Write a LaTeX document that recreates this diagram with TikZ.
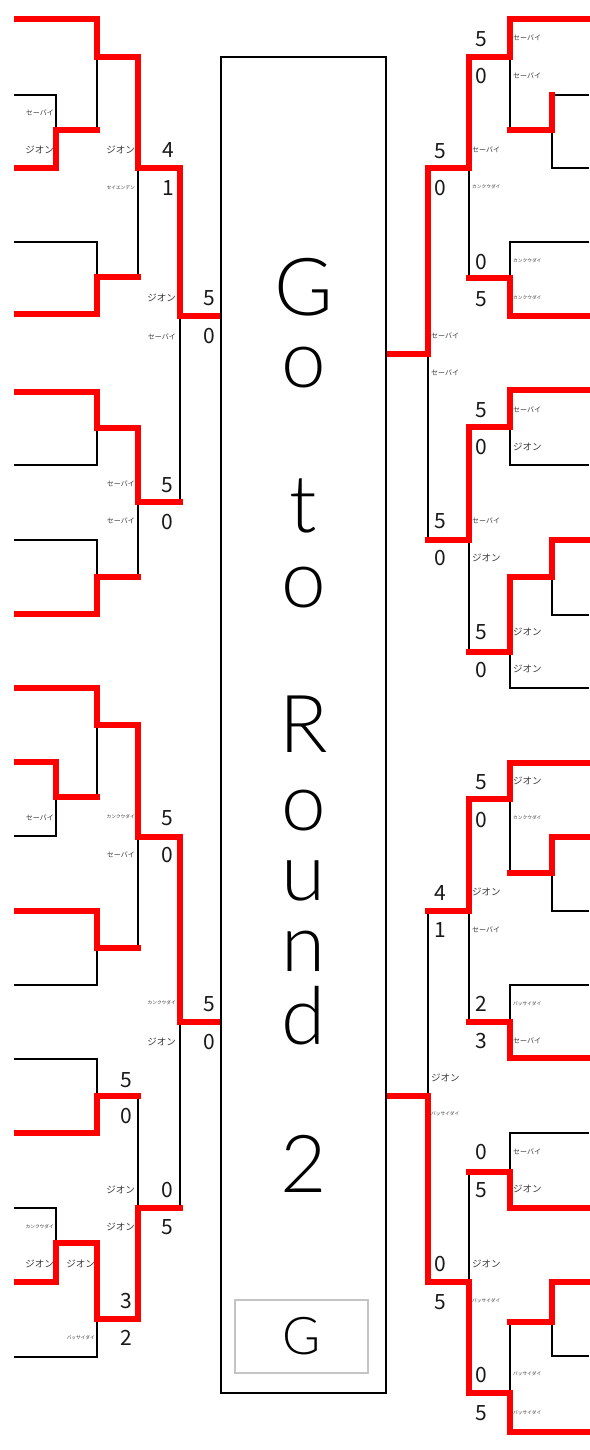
\documentclass[tikz,border=0pt]{standalone}
\usepackage{fontspec}
\setmainfont{Noto Sans CJK JP}
\newfontfamily\thinf{Lato}[UprightFont=* Light]
\definecolor{lbl}{HTML}{3A3A3A}
\definecolor{gbox}{HTML}{C4C4C4}
\tikzset{
  blk/.style={line width=2.7pt, black, line join=miter},
  wred/.style={line width=5.6pt, red, line join=miter, line cap=rect},
  sc/.style={font=\fontsize{21}{21}\selectfont, inner sep=0pt, text=black!90},
  nmA/.style={font=\fontsize{9.5}{9.5}\selectfont, inner sep=0pt, text=lbl},
  nmB/.style={font=\fontsize{7}{7}\selectfont, inner sep=0pt, text=lbl},
  nmC/.style={font=\fontsize{4.7}{4.7}\selectfont, inner sep=0pt, text=lbl},
  bigl/.style={font=\thinf\fontsize{80}{80}\selectfont, anchor=base, inner sep=0pt},
}
\begin{document}
\begin{tikzpicture}[x=1pt,y=-1pt]
\useasboundingbox (0,0) rectangle (589,1450);
\fill[white] (0,0) rectangle (589,1450);

% ---------- LEFT SIDE: black ----------
\draw[blk] (14,95)--(56,95)--(56,130);
\draw[blk] (97,57)--(97,130);
\draw[blk] (14,242)--(97,242)--(97,277);
\draw[blk] (138,168)--(138,277);
\draw[blk] (14,465)--(97,465)--(97,428);
\draw[blk] (14,540)--(97,540)--(97,577);
\draw[blk] (138,502)--(138,577);
\draw[blk] (180,316)--(180,502);
\draw[blk] (56,797)--(56,836)--(14,836);
\draw[blk] (97,725)--(97,797);
\draw[blk] (14,985)--(97,985)--(97,948);
\draw[blk] (138,837)--(138,948);
\draw[blk] (14,1059)--(97,1059)--(97,1096);
\draw[blk] (138,1096)--(138,1208);
\draw[blk] (14,1208)--(56,1208)--(56,1243);
\draw[blk] (97,1319)--(97,1357)--(14,1357);
\draw[blk] (180,1022)--(180,1208);

% ---------- RIGHT SIDE: black ----------
\draw[blk] (510,57)--(510,130);
\draw[blk] (552,95)--(589,95);
\draw[blk] (552,130)--(552,168)--(589,168);
\draw[blk] (469,168)--(469,278);
\draw[blk] (510,278)--(510,242)--(589,242);
\draw[blk] (428,354)--(428,540);
\draw[blk] (510,427)--(510,465)--(589,465);
\draw[blk] (469,540)--(469,652);
\draw[blk] (552,577)--(552,615)--(589,615);
\draw[blk] (510,652)--(510,688)--(589,688);
\draw[blk] (510,799)--(510,873);
\draw[blk] (552,873)--(552,911)--(589,911);
\draw[blk] (469,911)--(469,1022);
\draw[blk] (510,1022)--(510,985)--(589,985);
\draw[blk] (428,911)--(428,1096);
\draw[blk] (469,1282)--(469,1172);
\draw[blk] (510,1172)--(510,1133)--(589,1133);
\draw[blk] (510,1393)--(510,1322);
\draw[blk] (552,1322)--(552,1356)--(589,1356);

% ---------- LEFT SIDE: red ----------
\draw[wred] (16.8,19)--(97,19)--(97,57)--(138,57)--(138,168)--(180,168)--(180,316)--(221,316);
\draw[wred] (16.8,168)--(56,168)--(56,130)--(97,130);
\draw[wred] (16.8,314)--(97,314)--(97,277)--(138,277);
\draw[wred] (16.8,392)--(97,392)--(97,428)--(138,428)--(138,502)--(180,502);
\draw[wred] (16.8,614)--(97,614)--(97,577)--(138,577);
\draw[wred] (16.8,688)--(97,688)--(97,725)--(138,725)--(138,837)--(180,837)--(180,1022)--(221,1022);
\draw[wred] (16.8,762)--(56,762)--(56,797)--(97,797);
\draw[wred] (16.8,911)--(97,911)--(97,948)--(138,948);
\draw[wred] (16.8,1133)--(97,1133)--(97,1096)--(138,1096);
\draw[wred] (180,1208)--(138,1208)--(138,1319)--(97,1319)--(97,1243)--(56,1243)--(56,1282)--(16.8,1282);

% ---------- RIGHT SIDE: red ----------
\draw[wred] (592,19)--(510,19)--(510,57)--(469,57)--(469,168)--(428,168)--(428,354)--(386,354);
\draw[wred] (510,130)--(552,130)--(552,95);
\draw[wred] (469,278)--(510,278)--(510,316)--(592,316);
\draw[wred] (428,540)--(469,540)--(469,427)--(510,427)--(510,390)--(592,390);
\draw[wred] (469,652)--(510,652)--(510,577)--(552,577)--(552,540)--(592,540);
\draw[wred] (592,763)--(510,763)--(510,799)--(469,799)--(469,911)--(428,911);
\draw[wred] (510,873)--(552,873)--(552,837)--(592,837);
\draw[wred] (469,1022)--(510,1022)--(510,1058)--(592,1058);
\draw[wred] (386,1096)--(428,1096)--(428,1282)--(469,1282)--(469,1393)--(510,1393)--(510,1432)--(592,1432);
\draw[wred] (469,1172)--(510,1172)--(510,1208)--(592,1208);
\draw[wred] (510,1322)--(552,1322)--(552,1282)--(592,1282);

% ---------- CENTER BOX ----------
\draw[blk, fill=white] (221,57) rectangle (386,1393);
\node[bigl] (c1) at (303.5,315) {G};
\node[bigl] (c2) at (303.5,387) {o};
\node[bigl] (c3) at (303.5,532) {t};
\node[bigl] (c4) at (303.5,607) {o};
\node[bigl] (c5) at (303.5,752) {R};
\node[bigl] (c6) at (303.5,830) {o};
\node[bigl] (c7) at (303.5,900) {u};
\node[bigl] (c8) at (303.5,971) {n};
\node[bigl] (c9) at (303.5,1044) {d};
\node[bigl] (c10) at (303.5,1192) {2};
\draw[gbox, line width=1.5pt] (235,1300) rectangle (368,1373);
\node[font=\thinf\fontsize{52}{52}\selectfont, anchor=base, inner sep=0pt] (gg) at (301.5,1354) {G};

% ---------- LEFT LABELS ----------
\node[nmB, anchor=east] (L1) at (54,113) {セーバイ};
\node[nmA, anchor=east] (L2) at (54,150) {ジオン};
\node[nmA, anchor=east] (L3) at (135,150) {ジオン};
\node[nmC, anchor=east] (L4) at (135,188) {セイエンデン};
\node[nmA, anchor=east] (L5) at (176,298) {ジオン};
\node[nmB, anchor=east] (L6) at (176,337) {セーバイ};
\node[nmB, anchor=east] (L7) at (135,484) {セーバイ};
\node[nmB, anchor=east] (L8) at (135,521) {セーバイ};
\node[nmB, anchor=east] (L9) at (54,818) {セーバイ};
\node[nmC, anchor=east] (L10) at (135,817) {カンクウダイ};
\node[nmB, anchor=east] (L11) at (135,855) {セーバイ};
\node[nmC, anchor=east] (L12) at (176,1003) {カンクウダイ};
\node[nmA, anchor=east] (L13) at (176,1042) {ジオン};
\node[nmA, anchor=east] (L14) at (135,1190) {ジオン};
\node[nmA, anchor=east] (L15) at (135,1227) {ジオン};
\node[nmC, anchor=east] (L16) at (54,1227) {カンクウダイ};
\node[nmA, anchor=east] (L17) at (54,1264) {ジオン};
\node[nmA, anchor=east] (L18) at (95,1264) {ジオン};
\node[nmC, anchor=east] (L19) at (95,1338) {バッサイダイ};

% ---------- RIGHT LABELS ----------
\node[nmB, anchor=west] (R1) at (513,38) {セーバイ};
\node[nmB, anchor=west] (R2) at (513,76) {セーバイ};
\node[nmB, anchor=west] (R3) at (472,150) {セーバイ};
\node[nmC, anchor=west] (R4) at (472,187) {カンクウダイ};
\node[nmC, anchor=west] (R5) at (513,261) {カンクウダイ};
\node[nmC, anchor=west] (R6) at (513,298) {カンクウダイ};
\node[nmB, anchor=west] (R7) at (431,336) {セーバイ};
\node[nmB, anchor=west] (R8) at (431,373) {セーバイ};
\node[nmB, anchor=west] (R9) at (513,410) {セーバイ};
\node[nmA, anchor=west] (R10) at (513,447) {ジオン};
\node[nmB, anchor=west] (R11) at (472,521) {セーバイ};
\node[nmA, anchor=west] (R12) at (472,558) {ジオン};
\node[nmA, anchor=west] (R13) at (513,632) {ジオン};
\node[nmA, anchor=west] (R14) at (513,669) {ジオン};
\node[nmA, anchor=west] (R15) at (513,781) {ジオン};
\node[nmC, anchor=west] (R16) at (513,818) {カンクウダイ};
\node[nmA, anchor=west] (R17) at (472,892) {ジオン};
\node[nmB, anchor=west] (R18) at (472,930) {セーバイ};
\node[nmC, anchor=west] (R19) at (513,1004) {バッサイダイ};
\node[nmB, anchor=west] (R20) at (513,1041) {セーバイ};
\node[nmA, anchor=west] (R21) at (431,1078) {ジオン};
\node[nmC, anchor=west] (R22) at (431,1114) {バッサイダイ};
\node[nmB, anchor=west] (R23) at (513,1152) {セーバイ};
\node[nmA, anchor=west] (R24) at (513,1189) {ジオン};
\node[nmA, anchor=west] (R25) at (472,1264) {ジオン};
\node[nmC, anchor=west] (R26) at (472,1301) {バッサイダイ};
\node[nmC, anchor=west] (R27) at (513,1374) {バッサイダイ};
\node[nmC, anchor=west] (R28) at (513,1413) {バッサイダイ};

% ---------- LEFT SCORES ----------
\node[sc] (s1) at (168,150) {4};
\node[sc] (s2) at (168,188) {1};
\node[sc] (s3) at (209,298) {5};
\node[sc] (s4) at (209,336) {0};
\node[sc] (s5) at (167,485) {5};
\node[sc] (s6) at (167,522) {0};
\node[sc] (s7) at (167,818) {5};
\node[sc] (s8) at (167,855) {0};
\node[sc] (s9) at (209,1004) {5};
\node[sc] (s10) at (209,1042) {0};
\node[sc] (s11) at (126,1080) {5};
\node[sc] (s12) at (126,1116) {0};
\node[sc] (s13) at (167,1190) {0};
\node[sc] (s14) at (167,1227) {5};
\node[sc] (s15) at (126,1301) {3};
\node[sc] (s16) at (126,1338) {2};

% ---------- RIGHT SCORES ----------
\node[sc] (t1) at (481,39) {5};
\node[sc] (t2) at (481,76) {0};
\node[sc] (t3) at (440,151) {5};
\node[sc] (t4) at (440,188) {0};
\node[sc] (t5) at (481,262) {0};
\node[sc] (t6) at (481,299) {5};
\node[sc] (t7) at (481,410) {5};
\node[sc] (t8) at (481,447) {0};
\node[sc] (t9) at (440,521) {5};
\node[sc] (t10) at (440,558) {0};
\node[sc] (t11) at (481,632) {5};
\node[sc] (t12) at (481,670) {0};
\node[sc] (t13) at (481,782) {5};
\node[sc] (t14) at (481,820) {0};
\node[sc] (t15) at (440,893) {4};
\node[sc] (t16) at (440,930) {1};
\node[sc] (t17) at (481,1004) {2};
\node[sc] (t18) at (481,1041) {3};
\node[sc] (t19) at (481,1152) {0};
\node[sc] (t20) at (481,1190) {5};
\node[sc] (t21) at (440,1264) {0};
\node[sc] (t22) at (440,1302) {5};
\node[sc] (t23) at (481,1375) {0};
\node[sc] (t24) at (481,1413) {5};
\end{tikzpicture}
\end{document}
